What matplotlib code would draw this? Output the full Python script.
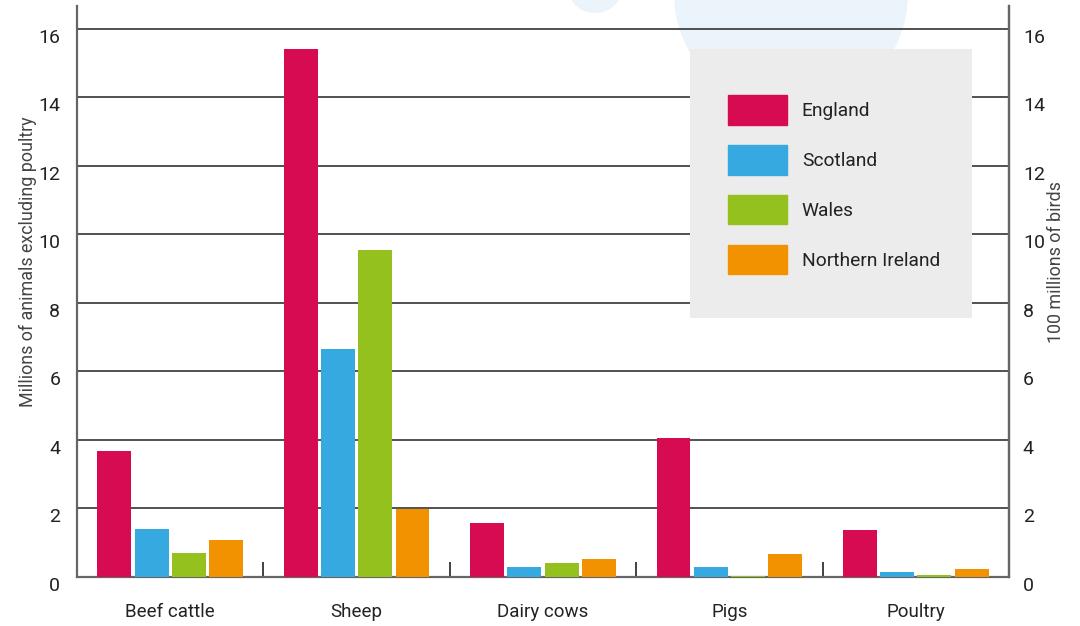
import numpy as np
import matplotlib
matplotlib.use('Agg')
import matplotlib.pyplot as plt
from matplotlib.patches import Rectangle, Ellipse, Patch

plt.rcParams['font.family'] = ['Roboto', 'DejaVu Sans']

# data (millions of animals; poultry in 100 millions of birds)
categories = ['Beef cattle', 'Sheep', 'Dairy cows', 'Pigs', 'Poultry']
nations = ['England', 'Scotland', 'Wales', 'Northern Ireland']
england = [3.69, 15.41, 1.59, 4.07, 1.38]
scotland = [1.41, 6.67, 0.30, 0.30, 0.16]
wales = [0.71, 9.54, 0.42, 0.02, 0.07]
n_ireland = [1.09, 1.99, 0.54, 0.68, 0.24]
yticks = [0, 2, 4, 6, 8, 10, 12, 14, 16]

colours = ['#d60b52', '#36a9e1', '#95c11f', '#f39200']
series = [england, scotland, wales, n_ireland]

fig = plt.figure(figsize=(10.8, 6.26), dpi=100)
fig.patch.set_facecolor('white')

# faint decorative circles at the top
fig.patches.append(Ellipse((0.7324, 1.0096), 0.2167, 0.3738, transform=fig.transFigure,
                           facecolor='#ecf4fb', edgecolor='none', zorder=-1))
fig.patches.append(Ellipse((0.551, 1.024), 0.052, 0.09, transform=fig.transFigure,
                           facecolor='#ecf4fb', edgecolor='none', zorder=-1))

ax = fig.add_axes([77/1080, 49/626, 932/1080, 571/626])
ax.set_facecolor('none')

x = np.arange(len(categories))
offsets = [-0.3, -0.1, 0.1, 0.3]
for vals, off, col, name in zip(series, offsets, colours, nations):
    ax.bar(x + off, vals, width=0.182, color=col, label=name, zorder=3)

ax.set_xlim(-0.5, 4.5)
ax.set_ylim(0, 16.67)
ax.set_yticks(yticks)
ax.set_xticks(x)
ax.set_xticklabels(categories, fontsize=13.5, color='#222222')
ax.set_xticks([0.5, 1.5, 2.5, 3.5], minor=True)
ax.tick_params(axis='x', which='major', length=0, pad=19)
ax.tick_params(axis='x', which='minor', direction='in', length=11, width=1.3, color='#333333')
ax.tick_params(axis='y', length=0, pad=12, labelsize=14, labelcolor='#222222')
plt.setp(ax.get_yticklabels(), va='top')

ax.yaxis.grid(True, color='#333333', linewidth=1.2, zorder=1)
ax.set_axisbelow(True)
for s in ['left', 'right', 'bottom']:
    ax.spines[s].set_color('#666666')
    ax.spines[s].set_linewidth(1.6)
ax.spines['top'].set_visible(False)

ax.set_ylabel('Millions of animals excluding poultry', fontsize=12.9, color='#444444')
ax.yaxis.set_label_coords(-0.043, 0.552)

ax2 = ax.twinx()
ax2.set_ylim(ax.get_ylim())
ax2.set_yticks(yticks)
ax2.tick_params(axis='y', length=0, pad=10, labelsize=14, labelcolor='#222222')
plt.setp(ax2.get_yticklabels(), va='top')
for s in ['left', 'top', 'bottom']:
    ax2.spines[s].set_visible(False)
ax2.spines['right'].set_color('#666666')
ax2.spines['right'].set_linewidth(1.6)
ax2.set_ylabel('100 millions of birds', fontsize=12.9, color='#444444')
ax2.yaxis.set_label_coords(1.041, 0.552)

# legend box
ax2.add_patch(Rectangle(((690-77)/932, (577-318)/571), 282/932, 269/571,
                        transform=ax2.transAxes, facecolor='#ececec', edgecolor='none',
                        zorder=2, clip_on=False))
handles = [Patch(color=c) for c in colours]
leg = ax2.legend(handles, nations, loc='upper left', bbox_to_anchor=(728/1080, 1-95/626),
                 bbox_transform=fig.transFigure, frameon=False, borderpad=0,
                 fontsize=13.8, handlelength=3.07, handleheight=2.0, labelspacing=1.06,
                 handletextpad=0.78, borderaxespad=0)
for t in leg.get_texts():
    t.set_color('#222222')
leg.set_zorder(4)

fig.savefig('out.png', dpi=100)
